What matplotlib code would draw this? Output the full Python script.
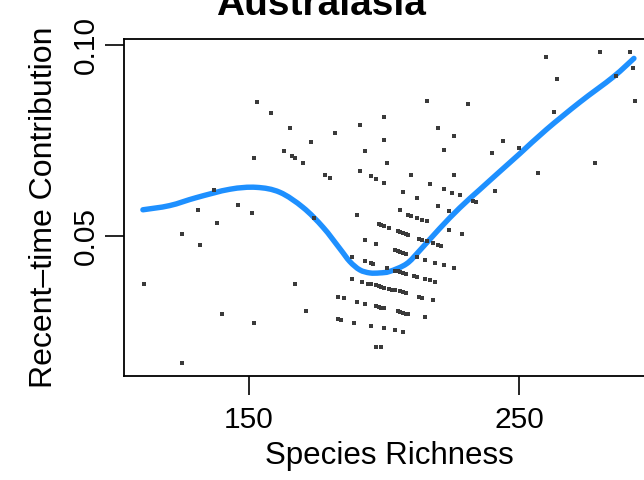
import matplotlib
matplotlib.use("Agg")
import matplotlib.pyplot as plt
from matplotlib.path import Path
from matplotlib.patches import PathPatch

# Species richness (x) and recent-time contribution (y) of the points
richness = [
    153, 158, 165, 182, 191, 173, 163, 152, 166, 167, 170, 193, 178, 180, 191, 195, 197,
    137, 146, 131, 200, 200, 201, 200,
    260, 280, 291, 292, 264, 293, 216, 231, 263, 220, 226, 244, 222, 240, 250, 278,
    210, 226, 257, 217, 222, 207, 225, 228, 212, 241, 220, 233, 234, 206, 224, 286,
    151, 138, 125, 132, 111, 167, 140, 152, 171, 125, 174,
    190, 209, 210, 212, 214, 216, 198, 199, 200, 202, 205, 206, 207, 208, 209,
    224, 229, 193, 197, 213, 214, 216, 218, 220, 221,
    204, 205, 206, 207, 208, 188, 193, 195, 196, 212, 215, 219, 222, 226, 201,
    204, 205, 206, 207, 208, 211, 212, 215, 217, 219, 188, 192,
    194, 195, 197, 198, 199, 200, 202, 203, 204, 206, 207, 208,
    213, 214, 218, 183, 185, 190, 193, 197, 198, 199, 200,
    205, 206, 207, 208, 209, 215, 183, 184, 189, 195, 200, 204, 207, 197, 199,
]
contribution = [
    0.0851, 0.0822, 0.0782, 0.0769, 0.0790, 0.0746, 0.0722, 0.0704, 0.0709, 0.0704, 0.0691,
    0.0722, 0.0659, 0.0651, 0.0670, 0.0657, 0.0649,
    0.0620, 0.0580, 0.0567, 0.0811, 0.0751, 0.0691, 0.0638,
    0.0969, 0.0984, 0.0984, 0.0940, 0.0911, 0.0853, 0.0853, 0.0845, 0.0824, 0.0782, 0.0761,
    0.0748, 0.0725, 0.0717, 0.0730, 0.0691,
    0.0659, 0.0659, 0.0664, 0.0636, 0.0622, 0.0615, 0.0612, 0.0607, 0.0599, 0.0617, 0.0578,
    0.0591, 0.0588, 0.0567, 0.0565, 0.0919,
    0.0560, 0.0533, 0.0504, 0.0476, 0.0373, 0.0373, 0.0295, 0.0271, 0.0303, 0.0164, 0.0546,
    0.0554, 0.0554, 0.0552, 0.0546, 0.0541, 0.0539, 0.0531, 0.0528, 0.0525, 0.0520,
    0.0512, 0.0510, 0.0507, 0.0504, 0.0502,
    0.0515, 0.0504, 0.0489, 0.0478, 0.0491, 0.0489, 0.0486, 0.0481, 0.0476, 0.0473,
    0.0462, 0.0460, 0.0457, 0.0454, 0.0452, 0.0444, 0.0434, 0.0428, 0.0426, 0.0444, 0.0436,
    0.0428, 0.0423, 0.0415, 0.0415,
    0.0407, 0.0406, 0.0404, 0.0401, 0.0400, 0.0394, 0.0392, 0.0386, 0.0384, 0.0379, 0.0386,
    0.0379,
    0.0373, 0.0372, 0.0371, 0.0368, 0.0365, 0.0363, 0.0360, 0.0358, 0.0356, 0.0355, 0.0353,
    0.0350,
    0.0339, 0.0337, 0.0331, 0.0339, 0.0337, 0.0326, 0.0321, 0.0316, 0.0312, 0.0310, 0.0310,
    0.0303, 0.0300, 0.0297, 0.0295, 0.0295, 0.0287, 0.0282, 0.0279, 0.0271, 0.0263, 0.0258,
    0.0253, 0.0247, 0.0208, 0.0206,
]

# Smooth (loess-like) fit
fit_richness = [110.7, 120.6, 130.5, 142.9, 152.7, 161.4, 170.0, 177.4, 183.6, 187.3,
                191.0, 194.7, 198.4, 202.1, 208.3, 213.2, 220.6, 228.0, 235.4, 242.9,
                250.3, 260.1, 272.5, 284.8, 292.5]
fit_contribution = [0.0568, 0.0579, 0.0600, 0.0622, 0.0627, 0.0614, 0.0574, 0.0522, 0.0466,
                    0.0432, 0.0410, 0.0402, 0.0402, 0.0406, 0.0426, 0.0461, 0.0519, 0.0573,
                    0.0621, 0.0669, 0.0716, 0.0779, 0.0851, 0.0917, 0.0966]

x_ticks = [150, 250]
y_ticks = [0.05, 0.10]
y_tick_labels = ["0.05", "0.10"]

plt.rcParams['font.family'] = ['Liberation Sans', 'DejaVu Sans']

W, H = 644, 480
fig = plt.figure(figsize=(W / 100, H / 100), dpi=100)
left, right, top, bottom = 124, 655, 39, 376
ax = fig.add_axes([left / W, 1 - bottom / H, (right - left) / W, (bottom - top) / H])

ax.plot(richness, contribution, linestyle='none', marker='s', markersize=2.2,
        markeredgewidth=0, color='#3a3a3a')

ax.set_xlim(103.7, 300.3)
ax.set_ylim(0.0131, 0.1017)


def smooth_path(xs, ys):
    """Catmull-Rom curve through the read points, drawn as cubic Bezier segments
    in display space so the rendered line is smooth."""
    pts = ax.transData.transform(list(zip(xs, ys)))
    verts = [tuple(pts[0])]
    codes = [Path.MOVETO]
    n = len(pts)
    for i in range(n - 1):
        p0 = pts[i - 1] if i > 0 else pts[i]
        p1 = pts[i]
        p2 = pts[i + 1]
        p3 = pts[i + 2] if i + 2 < n else pts[i + 1]
        c1 = p1 + (p2 - p0) / 6.0
        c2 = p2 - (p3 - p1) / 6.0
        verts += [tuple(c1), tuple(c2), tuple(p2)]
        codes += [Path.CURVE4] * 3
    return Path(verts, codes)


patch = PathPatch(smooth_path(fit_richness, fit_contribution), facecolor='none',
                  edgecolor='#1E90FF', linewidth=3.9, capstyle='round', joinstyle='round',
                  transform=None)
ax.add_artist(patch)
patch.set_clip_path(ax.patch)

ax.set_xticks(x_ticks)
ax.set_xticklabels([str(t) for t in x_ticks])
ax.set_yticks(y_ticks)
ax.set_yticklabels(y_tick_labels, rotation=90, va='center')

ax.tick_params(axis='both', length=13.5, width=1.2, labelsize=21.5, color='black')
ax.tick_params(axis='x', pad=8)
ax.tick_params(axis='y', pad=4)

for s in ax.spines.values():
    s.set_linewidth(1.3)
    s.set_color('black')

fig.text(389 / W, 1 - 464 / H, "Species Richness", ha='center', va='baseline', fontsize=22.5)
fig.text(52 / W, 1 - 207.5 / H, "Recent–time Contribution", rotation=90,
         rotation_mode='anchor', ha='center', va='baseline', fontsize=23)
fig.text(321 / W, 1 - 15 / H, "Australasia", ha='center', va='baseline',
         fontsize=28, fontweight='bold')

fig.savefig("out.png", dpi=100)
